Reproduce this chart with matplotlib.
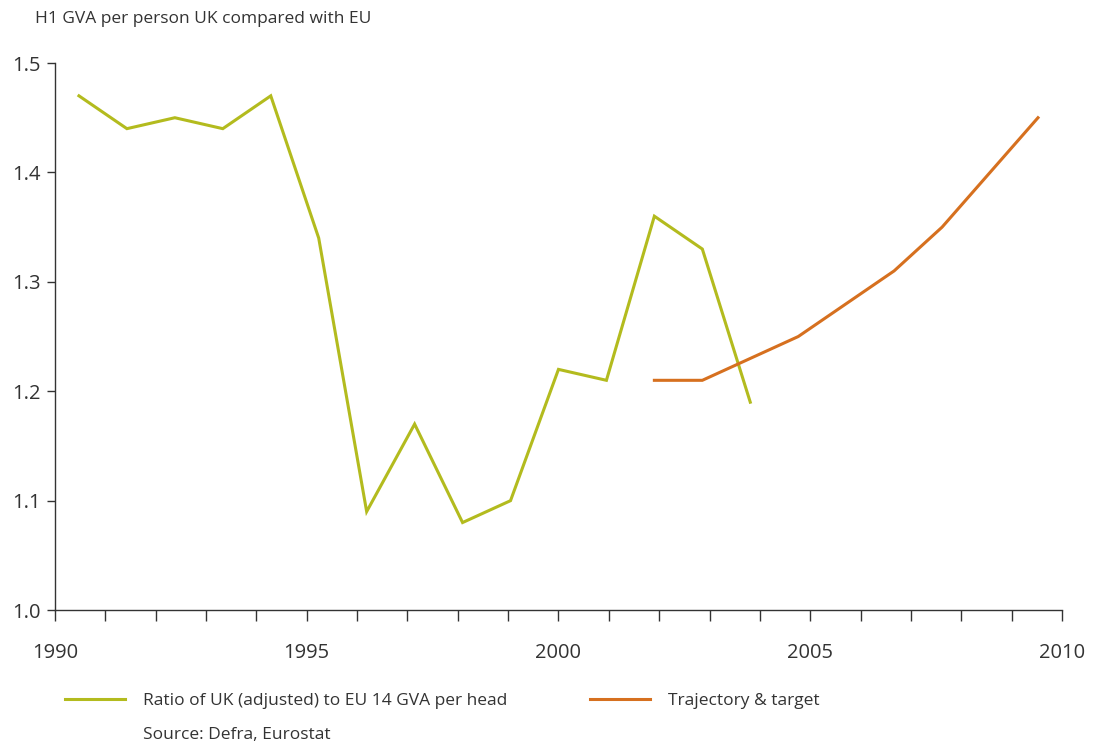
import numpy as np
import matplotlib.pyplot as plt
from matplotlib.lines import Line2D

plt.rcParams['font.family'] = ['Open Sans', 'DejaVu Sans']

# one category per year, 1990..2010
years = list(range(1990, 2011))
ratio_years = list(range(1990, 2005))
ratio = [1.47, 1.44, 1.45, 1.44, 1.47, 1.34, 1.09, 1.17, 1.08, 1.10,
         1.22, 1.21, 1.36, 1.33, 1.19]
target_years = list(range(2002, 2011))
target = [1.21, 1.21, 1.23, 1.25, 1.28, 1.31, 1.35, 1.40, 1.45]
tick_labels = ['1990', '1995', '2000', '2005', '2010']

green = '#b3bb1e'
orange = '#d6701f'
txt = '#333333'

fig = plt.figure(figsize=(10.93, 7.44), dpi=100)
ax = fig.add_axes([0.0503, 0.18, 0.9213, 0.7353])

# points sit at category centres
xr = [years.index(y) for y in ratio_years]
xt = [years.index(y) for y in target_years]
ax.plot(xr, ratio, color=green, lw=2.2, solid_joinstyle='miter')
ax.plot(xt, target, color=orange, lw=2.2, solid_joinstyle='miter')

n = len(years)
ax.set_xlim(-0.5, n - 0.5)
ax.set_ylim(1.0, 1.5)
# 20 tick intervals spread across the 21 categories
edges = np.linspace(-0.5, n - 0.5, n)
ax.set_xticks(edges)
ax.set_xticklabels([str(years[0] + i) if i % 5 == 0 else '' for i in range(n)])
ax.set_yticks([1.0, 1.1, 1.2, 1.3, 1.4, 1.5])
ax.set_yticklabels(['1.0', '1.1', '1.2', '1.3', '1.4', '1.5'])

for s in ['top', 'right']:
    ax.spines[s].set_visible(False)
for s in ['left', 'bottom']:
    ax.spines[s].set_color(txt)
    ax.spines[s].set_linewidth(1.0)
ax.tick_params(axis='x', direction='out', length=8, width=1, color=txt,
               labelsize=14.5, labelcolor=txt, pad=16)
ax.tick_params(axis='y', direction='out', length=6, width=1, color=txt,
               labelsize=14.5, labelcolor=txt, pad=4)

fig.text(0.032, 0.975, 'H1 GVA per person UK compared with EU', fontsize=12.5,
         color=txt, va='center', ha='left')

handles = [Line2D([], [], color=green, lw=2.2),
           Line2D([], [], color=orange, lw=2.2)]
fig.legend(handles, ['Ratio of UK (adjusted) to EU 14 GVA per head', 'Trajectory & target'],
           loc='center left', bbox_to_anchor=(0.045, 0.058), ncol=2, frameon=False,
           fontsize=12.5, labelcolor=txt, handlelength=3.45, handletextpad=1.03,
           columnspacing=4.8)
fig.text(0.131, 0.012, 'Source: Defra, Eurostat', fontsize=12.5, color=txt,
         va='center', ha='left')

fig.savefig('out.png', dpi=100)
